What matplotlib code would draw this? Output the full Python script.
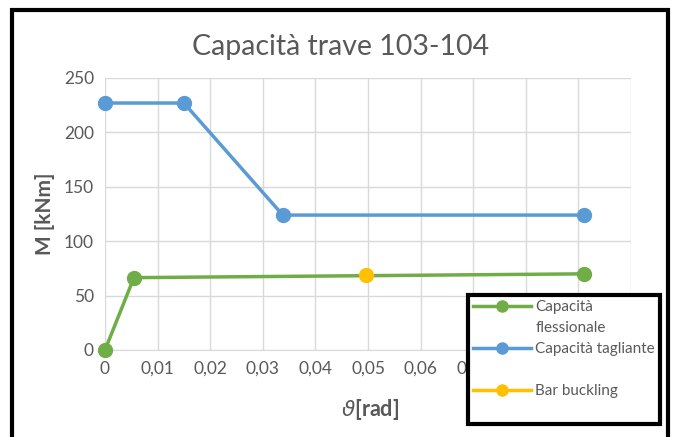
import matplotlib
matplotlib.use('Agg')
import matplotlib.pyplot as plt
from matplotlib.patches import Rectangle
from matplotlib.lines import Line2D

# dati
theta_fless = [0.0, 0.0055, 0.0911]
m_fless = [0.0, 66.5, 70.0]
theta_tagl = [0.0, 0.015, 0.0338, 0.0911]
m_tagl = [227.0, 227.0, 124.0, 124.0]
theta_buck = [0.0496]
m_buck = [68.5]

x_ticks = [0, 0.01, 0.02, 0.03, 0.04, 0.05, 0.06, 0.07, 0.08, 0.09, 0.1]
x_ticklabels = ['0', '0,01', '0,02', '0,03', '0,04', '0,05', '0,06', '0,07', '0,08', '0,09', '0,1']
y_ticks = [0, 50, 100, 150, 200, 250]

verde = '#70AD47'
blu = '#5B9BD5'
giallo = '#FFC000'
grigio = '#595959'

plt.rcParams['font.family'] = ['Lato', 'DejaVu Sans']

fig = plt.figure(figsize=(6.78, 4.37), dpi=100)
ax = fig.add_axes([105 / 678, 1 - 350 / 437, 526 / 678, 272 / 437])

ax.plot(theta_fless, m_fless, color=verde, lw=2.5, marker='o', ms=10, zorder=3, clip_on=False)
ax.plot(theta_tagl, m_tagl, color=blu, lw=2.5, marker='o', ms=10, zorder=3, clip_on=False)
ax.plot(theta_buck, m_buck, color=giallo, lw=2.5, marker='o', ms=10, zorder=4, clip_on=False)

ax.set_xlim(0, 0.1)
ax.set_ylim(0, 250)
ax.set_xticks(x_ticks)
ax.set_xticklabels(x_ticklabels)
ax.set_yticks(y_ticks)
ax.tick_params(length=0, colors=grigio, labelsize=12.5, pad=8)
ax.grid(True, color='#D9D9D9', lw=1)
ax.set_axisbelow(True)
for s in ['top', 'right', 'left']:
    ax.spines[s].set_visible(False)
ax.spines['bottom'].set_color('#D9D9D9')

# titolo centrato sulla figura, come in Excel
fig.text(341 / 678, 1 - 47 / 437, 'Capacità trave 103-104', fontsize=20.5, color=grigio,
         ha='center', va='center')
ax.set_ylabel('M [kNm]', fontsize=15, fontweight='bold', color=grigio, labelpad=6)
fig.text(370 / 678, 1 - 410 / 437, r'$\vartheta$[rad]', fontsize=15.5, fontweight='bold',
         color=grigio, ha='center', va='center')

# bordo esterno
fig.patches.append(Rectangle((12 / 678, -0.05), 656 / 678, 1 - 10 / 437 + 0.05,
                             transform=fig.transFigure, fill=False, lw=3, ec='black'))

# legenda come in Excel: etichetta su due righe e una riga vuota prima di "Bar buckling"
vuoto = Line2D([], [], lw=0)
handles = [Line2D([], [], color=verde, lw=2.5, marker='o', ms=8), vuoto,
           Line2D([], [], color=blu, lw=2.5, marker='o', ms=8), vuoto,
           Line2D([], [], color=giallo, lw=2.5, marker='o', ms=8), vuoto]
labels = ['Capacità', 'flessionale', 'Capacità tagliante', ' ', 'Bar buckling', ' ']
leg = fig.legend(handles, labels, loc='upper left', bbox_to_anchor=(468 / 678, 1 - 295 / 437),
                 fontsize=11, labelcolor=grigio, frameon=True, fancybox=False,
                 borderpad=0.35, labelspacing=0.45, handlelength=3.8, handletextpad=0.25,
                 borderaxespad=0)
leg.get_frame().set_edgecolor('black')
leg.get_frame().set_linewidth(3)
leg.get_frame().set_alpha(1)

plt.savefig('out.png', dpi=100)
plt.close()
